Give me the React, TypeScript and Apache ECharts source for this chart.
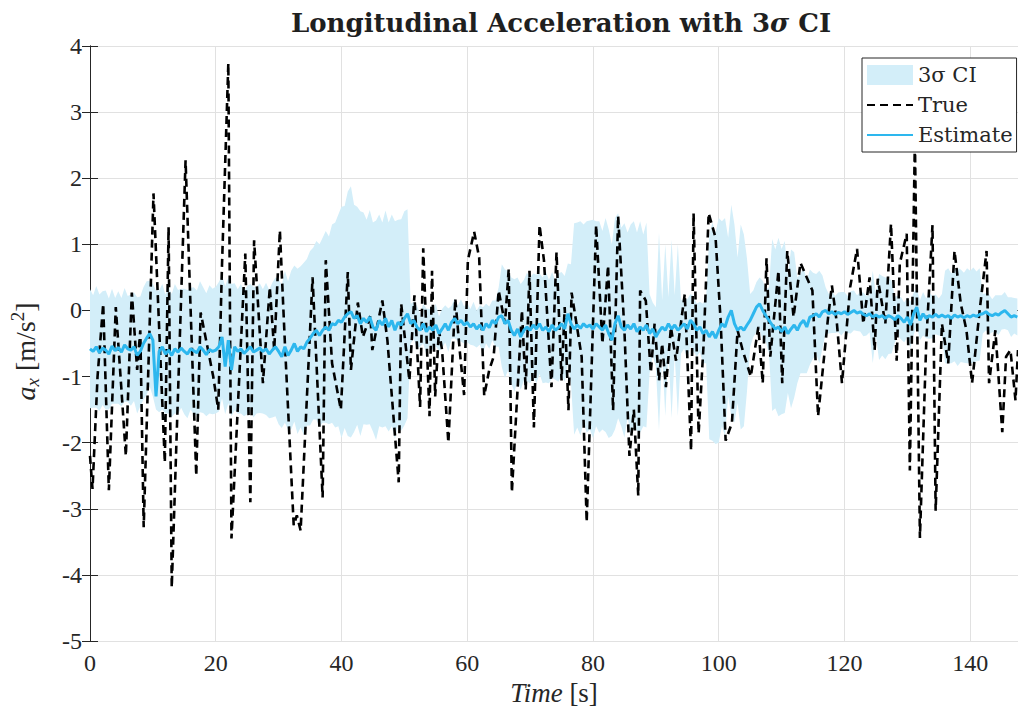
import React, { useEffect, useRef } from 'react';
import * as echarts from 'echarts';

// ---------- data ----------
const TIME_STEP = 0.5; // seconds between estimate / CI samples

// true longitudinal acceleration [time s, a_x m/s^2]
const trueSamples: [number, number][] = [
  [0, -2.2], [0.4, -2.7], [1.2, -1.0], [2.1, 0.1], [3.0, -2.72], [4.1, 0.05], [5.0, -1.2], [5.7, -2.2],
  [6.65, 0.27], [7.5, -0.9], [8.0, -0.3], [8.54, -3.28], [10.1, 1.77], [11.9, -2.3], [12.5, 1.26], [13.0, -4.19],
  [15.2, 2.27], [16.9, -2.5], [17.6, -0.03], [19.6, -1.0], [20.4, -1.5], [21.0, 0.7], [22.0, 3.74], [22.5, -3.45],
  [24.0, -0.5], [24.7, 0.86], [25.5, -2.9], [26.1, 1.06], [27.5, -1.1], [28.6, 0.35], [29.3, -0.6], [30.2, 1.21],
  [31.0, -0.5], [32.4, -3.25], [32.9, -3.1], [33.5, -3.33], [35.4, 0.5], [37.0, -2.83], [37.5, 0.76], [38.5, -0.8],
  [39.9, -1.5], [41.0, 0.58], [41.5, -0.9], [42.6, 0.12], [43.4, -0.4], [44.6, -0.08], [44.9, -0.6], [46.5, 0.15],
  [47.3, -0.45], [49.1, -2.6], [49.5, 0.1], [50.8, -1.06], [51.6, 0.23], [52.5, -1.46], [53.0, 0.94], [54.0, -1.6],
  [54.4, 0.6], [54.9, -1.3], [55.5, -0.3], [56.0, -0.6], [57.0, -2.0], [58.1, 0.18], [58.8, -0.6], [59.5, -1.28],
  [60.1, 0.76], [61.1, 1.19], [61.9, 0.8], [62.7, -1.29], [63.5, -0.9], [64.2, -0.7], [65.0, 0.3], [66.0, -0.2],
  [66.6, 0.63], [67.1, -2.75], [68.7, 0.0], [69.3, -1.2], [69.9, 0.6], [70.6, -1.77], [71.5, 1.29], [72.2, 0.76],
  [73.4, -1.16], [74.2, 0.88], [75.0, -1.06], [75.5, 0.05], [76.1, -1.51], [76.6, 0.27], [78.2, -0.7], [79.0, -3.2],
  [80.5, 1.29], [81.5, -0.5], [82.4, 0.68], [83.2, -1.51], [84.0, 1.43], [85.0, -0.3], [85.8, -2.2], [86.5, -1.5],
  [87.2, -2.8], [87.5, 0.3], [88.4, 0.15], [89.2, -0.94], [89.8, -0.2], [90.5, -1.06], [91.0, -0.5], [91.6, -1.16],
  [92.4, -0.25], [93.2, -0.76], [94.6, 0.25], [95.6, -2.12], [96.0, 1.47], [96.8, -1.86], [97.6, -0.5], [98.4, 1.47],
  [99.5, 1.1], [100.3, -0.15], [101.1, -1.97], [102.1, -1.7], [103.0, -0.3], [103.8, -0.6], [105.1, -1.0], [106.3, -0.25],
  [107.0, -1.1], [107.6, 0.79], [108.2, -0.7], [109.5, 0.6], [110.1, -1.1], [110.9, 0.9], [111.9, -0.1], [113.0, 0.72],
  [114.9, 0.3], [115.8, -1.6], [117.4, -0.1], [118.0, 0.38], [118.8, -0.2], [119.6, -1.1], [120.9, 0.35], [122.0, 0.93],
  [123.0, -0.2], [124.0, 0.5], [124.8, -0.6], [125.3, 0.48], [126.5, -0.2], [127.4, 1.31], [128.3, -0.76], [128.8, 0.71],
  [129.9, 1.16], [130.4, -2.42], [131.2, 2.6], [132.0, -3.44], [133.0, -0.5], [134.0, 1.29], [134.5, -3.03], [135.5, -0.2],
  [136.5, -0.8], [137.5, 0.9], [138.5, 0.1], [139.4, -0.3], [140.3, -1.1], [141.5, 0.0], [142.6, 0.9], [143.0, -1.1],
  [144.0, -0.3], [145.1, -1.84], [145.7, -0.7], [146.4, -0.6], [147.2, -1.36], [147.6, -0.6],
];

// filter estimate, one value every TIME_STEP seconds from t = 0
const estimate: number[] = [
  -0.58, -0.62, -0.55, -0.64, -0.57, -0.60, -0.66, -0.54, -0.61, -0.56, -0.63, -0.52, -0.58, -0.60, -0.55, -0.68, -0.62, -0.50, -0.42, -0.35,
  -0.45, -1.3, -0.62, -0.55, -0.66, -0.6, -0.68, -0.58, -0.63, -0.57, -0.62, -0.66, -0.58, -0.61, -0.64, -0.55, -0.6, -0.67, -0.59, -0.62,
  -0.6, -0.55, -0.4, -0.85, -0.45, -0.9, -0.55, -0.62, -0.58, -0.65, -0.6, -0.55, -0.63, -0.6, -0.57, -0.62, -0.58, -0.66, -0.6, -0.55,
  -0.62, -0.7, -0.55, -0.68, -0.6, -0.5, -0.62, -0.55, -0.58, -0.48, -0.42, -0.35, -0.3, -0.38, -0.3, -0.25, -0.3, -0.2, -0.22, -0.15,
  -0.18, -0.1, -0.05, -0.02, -0.12, -0.08, -0.2, -0.12, -0.18, -0.1, -0.25, -0.3, -0.15, -0.22, -0.12, -0.25, -0.15, -0.3, -0.18, -0.22,
  -0.12, -0.05, -0.2, -0.15, -0.25, -0.3, -0.2, -0.32, -0.25, -0.3, -0.22, -0.35, -0.28, -0.2, -0.3, -0.18, -0.12, -0.2, -0.15, -0.22,
  -0.18, -0.25, -0.2, -0.28, -0.22, -0.3, -0.2, -0.26, -0.15, -0.2, -0.1, -0.08, -0.2, -0.15, -0.3, -0.38, -0.28, -0.4, -0.3, -0.25,
  -0.3, -0.22, -0.28, -0.2, -0.3, -0.25, -0.32, -0.22, -0.3, -0.26, -0.2, -0.28, -0.05, -0.2, -0.28, -0.22, -0.27, -0.2, -0.25, -0.22,
  -0.28, -0.2, -0.25, -0.3, -0.22, -0.35, -0.45, -0.2, -0.08, -0.25, -0.3, -0.22, -0.28, -0.2, -0.32, -0.25, -0.3, -0.22, -0.35, -0.28,
  -0.4, -0.32, -0.25, -0.3, -0.2, -0.28, -0.22, -0.3, -0.25, -0.2, -0.28, -0.15, -0.2, -0.3, -0.25, -0.35, -0.3, -0.4, -0.32, -0.42,
  -0.3, -0.2, -0.25, -0.1, 0.0, -0.2, -0.3, -0.25, -0.3, -0.22, -0.15, -0.05, 0.05, 0.1, 0.0, -0.08, -0.15, -0.22, -0.28, -0.25,
  -0.32, -0.25, -0.35, -0.28, -0.22, -0.3, -0.2, -0.15, -0.25, -0.1, -0.08, -0.05, -0.1, -0.02, 0.0, -0.05, -0.02, -0.06, -0.03, -0.05,
  -0.02, -0.06, -0.03, 0.0, -0.04, -0.02, -0.06, -0.08, -0.05, -0.1, -0.07, -0.1, -0.08, -0.12, -0.08, -0.1, -0.14, -0.08, -0.12, -0.18,
  -0.1, -0.22, -0.05, 0.05, -0.15, -0.05, -0.12, -0.08, -0.1, -0.06, -0.1, -0.07, -0.1, -0.08, -0.12, -0.07, -0.1, -0.08, -0.11, -0.08,
  -0.1, -0.07, -0.09, -0.06, -0.05, -0.02, -0.06, -0.08, -0.05, -0.07, -0.03, 0.0, -0.05, -0.1, -0.08, -0.1,
];

// centre of the 3-sigma band, same sampling (follows the estimate without its spikes)
const ciCentre: number[] = estimate.map((v, i) => (i === 21 ? -0.6 : i === 43 || i === 45 ? -0.6 : v));

// 3-sigma half width around the estimate, same sampling
const ciHalfWidth: number[] = [
  0.9, 0.85, 0.92, 0.88, 0.86, 0.9, 0.84, 0.87, 0.8, 0.85, 0.82, 0.86, 0.8, 0.84, 0.82, 0.88, 0.83, 0.85, 0.86, 0.8,
  0.85, 0.9, 0.92, 0.95, 0.9, 0.96, 0.93, 0.98, 0.94, 0.9, 0.95, 0.97, 0.92, 0.96, 0.94, 0.99, 0.95, 0.93, 0.97, 0.95,
  0.96, 0.98, 0.93, 0.97, 0.95, 1.0, 0.96, 0.94, 0.98, 0.95, 0.97, 0.95, 0.99, 0.96, 0.98, 0.94, 1.0, 0.97, 1.02, 1.05,
  1.1, 1.08, 1.15, 1.12, 1.2, 1.18, 1.25, 1.22, 1.3, 1.26, 1.32, 1.3, 1.35, 1.38, 1.4, 1.45, 1.42, 1.5, 1.55, 1.6,
  1.75, 1.68, 1.85, 1.9, 1.72, 1.65, 1.7, 1.6, 1.55, 1.62, 1.58, 1.66, 1.6, 1.55, 1.63, 1.58, 1.6, 1.65, 1.55, 1.6,
  1.62, 1.58, 0.3, 0.28, 0.32, 0.25, 0.3, 0.35, 0.27, 0.3, 0.32, 0.26, 0.3, 0.28, 0.33, 0.25, 0.3, 0.27, 0.32, 0.28,
  0.3, 0.27, 0.33, 0.28, 0.3, 0.35, 0.3, 0.32, 0.3, 0.35, 0.45, 0.78, 0.82, 0.75, 0.8, 0.85, 0.78, 0.8, 0.76, 0.82,
  0.8, 0.78, 0.82, 0.76, 0.8, 0.84, 0.78, 0.8, 0.75, 0.82, 0.78, 0.8, 0.76, 0.9, 1.6, 1.55, 1.62, 1.5, 1.6, 1.58,
  1.65, 1.55, 1.6, 1.5, 1.62, 1.58, 1.45, 1.6, 1.55, 1.5, 1.62, 1.4, 1.58, 1.55, 1.5, 1.6, 1.45, 1.55, 0.6, 0.4,
  0.45, 1.5, 0.4, 1.3, 0.4, 1.35, 0.45, 1.3, 0.4, 0.38, 0.45, 0.4, 0.42, 0.4, 0.38, 0.45, 0.5, 1.55, 1.65, 1.6,
  1.7, 1.55, 1.65, 1.2, 1.6, 1.5, 1.1, 1.55, 1.45, 1.0, 0.4, 0.35, 0.38, 0.4, 0.45, 0.4, 0.5, 1.3, 1.2, 1.35,
  1.25, 1.3, 0.9, 1.2, 1.1, 0.8, 0.75, 0.8, 0.7, 0.72, 0.65, 0.6, 0.7, 0.55, 0.35, 0.3, 0.32, 0.28, 0.3, 0.33,
  0.3, 0.28, 0.32, 0.3, 0.27, 0.3, 0.33, 0.3, 0.28, 0.7, 0.32, 0.65, 0.6, 0.62, 0.58, 0.55, 0.35, 0.3, 0.32, 0.3,
  0.3, 0.35, 0.32, 0.28, 0.3, 0.33, 0.3, 0.35, 0.32, 0.3, 0.28, 0.32, 0.7, 0.72, 0.68, 0.7, 0.74, 0.7, 0.68, 0.72,
  0.7, 0.72, 0.68, 0.7, 0.3, 0.28, 0.3, 0.25, 0.28, 0.3, 0.26, 0.28, 0.25, 0.3, 0.27, 0.28,
];

const X_MIN = 0;
const X_MAX = 147.6;
const X_INTERVAL = 20;
const Y_MIN = -5;
const Y_MAX = 4;
const Y_INTERVAL = 1;

const LEGEND_NAMES = ['3σ CI', 'True', 'Estimate'];

// ---------- styles ----------
const BAND_COLOR = '#d3eef9';
const EST_COLOR = '#2db7ee';
const AXIS_COLOR = '#262626';
const GRID_COLOR = '#e1e1e1';
const SERIF = '"Liberation Serif", "DejaVu Serif", serif';
const WIDE_SERIF = '"DejaVu Serif", "Liberation Serif", serif';

export default function App() {
  const ref = useRef<HTMLDivElement>(null);

  useEffect(() => {
    if (!ref.current) return;
    const chart = echarts.init(ref.current, undefined, { renderer: 'svg' });

    const times = estimate.map((_, i) => i * TIME_STEP);
    const estData = estimate.map((v, i) => [times[i], v]);
    const bandData = ciCentre.map((c, i) => [times[i], c - ciHalfWidth[i], c + ciHalfWidth[i]]);

    const axisLineStyle = { color: AXIS_COLOR, width: 1 };
    const hiddenSymbol = { color: 'rgba(0,0,0,0)', borderWidth: 0, opacity: 0 };

    chart.setOption({
      animation: false,
      title: {
        text: 'Longitudinal Acceleration with 3{s|σ} CI',
        left: 556,
        top: 5,
        textAlign: 'center',
        textStyle: {
          fontFamily: WIDE_SERIF,
          fontWeight: 'bold',
          fontSize: 26,
          color: '#1f1f1f',
          rich: {
            s: { fontFamily: WIDE_SERIF, fontWeight: 'bold', fontStyle: 'italic', fontSize: 26, color: '#1f1f1f' },
          },
        },
      },
      legend: {
        data: [
          { name: LEGEND_NAMES[0], icon: 'rect' },
          { name: LEGEND_NAMES[1], itemStyle: hiddenSymbol },
          { name: LEGEND_NAMES[2], itemStyle: hiddenSymbol },
        ],
        orient: 'vertical',
        left: 862,
        top: 58,
        padding: [6, 4, 6, 4],
        itemGap: 8,
        itemWidth: 46,
        itemHeight: 20,
        selectedMode: false,
        backgroundColor: '#ffffff',
        borderColor: AXIS_COLOR,
        borderWidth: 1,
        textStyle: { fontFamily: WIDE_SERIF, fontSize: 21, color: '#262626', lineHeight: 22 },
      },
      grid: { left: 86, right: 0, top: 46, bottom: 77, containLabel: false },
      xAxis: [
        {
          type: 'value',
          min: X_MIN,
          max: X_MAX,
          interval: X_INTERVAL,
          position: 'bottom',
          name: '{i|Time} [s]',
          nameLocation: 'middle',
          nameGap: 36,
          nameTextStyle: {
            fontFamily: SERIF,
            fontSize: 27,
            color: '#262626',
            rich: { i: { fontFamily: SERIF, fontStyle: 'italic', fontSize: 27, color: '#262626' } },
          },
          axisLine: { show: true, lineStyle: axisLineStyle },
          axisTick: { show: true, inside: true, length: 8, lineStyle: axisLineStyle },
          axisLabel: { fontFamily: SERIF, fontSize: 24, color: '#262626', margin: 10, showMaxLabel: false },
          splitLine: { show: true, lineStyle: { color: GRID_COLOR, width: 1 } },
        },
        {
          type: 'value',
          min: X_MIN,
          max: X_MAX,
          interval: X_INTERVAL,
          position: 'top',
          axisLine: { show: true, lineStyle: axisLineStyle },
          axisTick: { show: true, inside: true, length: 8, lineStyle: axisLineStyle },
          axisLabel: { show: false },
          splitLine: { show: false },
        },
      ],
      yAxis: [
        {
          type: 'value',
          min: Y_MIN,
          max: Y_MAX,
          interval: Y_INTERVAL,
          position: 'left',
          name: '{i|a}{sub|x} [m/s{sup|2}]',
          nameLocation: 'middle',
          nameGap: 48,
          nameRotate: 90,
          nameTextStyle: {
            fontFamily: SERIF,
            fontSize: 28,
            color: '#262626',
            lineHeight: 34,
            padding: [0, 16, 0, 0],
            rich: {
              i: { fontFamily: SERIF, fontStyle: 'italic', fontSize: 28, color: '#262626', lineHeight: 34 },
              sub: { fontFamily: SERIF, fontStyle: 'italic', fontSize: 19, color: '#262626', lineHeight: 34, verticalAlign: 'bottom' },
              sup: { fontFamily: SERIF, fontSize: 19, color: '#262626', lineHeight: 34, verticalAlign: 'top' },
            },
          },
          axisLine: { show: true, lineStyle: axisLineStyle },
          axisTick: { show: true, inside: true, length: 8, lineStyle: axisLineStyle },
          axisLabel: { fontFamily: SERIF, fontSize: 24, color: '#262626', margin: 8 },
          splitLine: { show: true, lineStyle: { color: GRID_COLOR, width: 1 } },
        },
        {
          type: 'value',
          min: Y_MIN,
          max: Y_MAX,
          interval: Y_INTERVAL,
          position: 'right',
          axisLine: { show: true, lineStyle: axisLineStyle },
          axisTick: { show: true, inside: true, length: 8, lineStyle: axisLineStyle },
          axisLabel: { show: false },
          splitLine: { show: false },
        },
      ],
      series: [
        {
          name: LEGEND_NAMES[0],
          type: 'custom',
          xAxisIndex: 0,
          yAxisIndex: 0,
          silent: true,
          itemStyle: { color: BAND_COLOR },
          encode: { x: 0, y: [1, 2] },
          data: bandData,
          z: 1,
          renderItem: (params: any, api: any) => {
            if (params.dataIndex !== 0) return null;
            const upper: number[][] = [];
            const lower: number[][] = [];
            for (let i = 0; i < bandData.length; i++) {
              upper.push(api.coord([bandData[i][0], bandData[i][2]]));
              lower.push(api.coord([bandData[i][0], bandData[i][1]]));
            }
            return {
              type: 'polygon',
              shape: { points: upper.concat(lower.reverse()) },
              style: { fill: BAND_COLOR, stroke: 'none' },
              silent: true,
            };
          },
        },
        {
          name: LEGEND_NAMES[1],
          type: 'line',
          xAxisIndex: 0,
          yAxisIndex: 0,
          data: trueSamples,
          symbol: 'none',
          showSymbol: false,
          z: 2,
          itemStyle: { color: '#000000' },
          lineStyle: { color: '#000000', width: 2.6, type: [8, 5] },
        },
        {
          name: LEGEND_NAMES[2],
          type: 'line',
          xAxisIndex: 0,
          yAxisIndex: 0,
          data: estData,
          symbol: 'none',
          showSymbol: false,
          z: 3,
          itemStyle: { color: EST_COLOR },
          lineStyle: { color: EST_COLOR, width: 3 },
        },
      ],
    });

    return () => chart.dispose();
  }, []);

  return (
    <div
      ref={ref}
      style={{ position: 'fixed', left: 0, top: 0, width: 1018, height: 718, background: '#ffffff' }}
    />
  );
}
